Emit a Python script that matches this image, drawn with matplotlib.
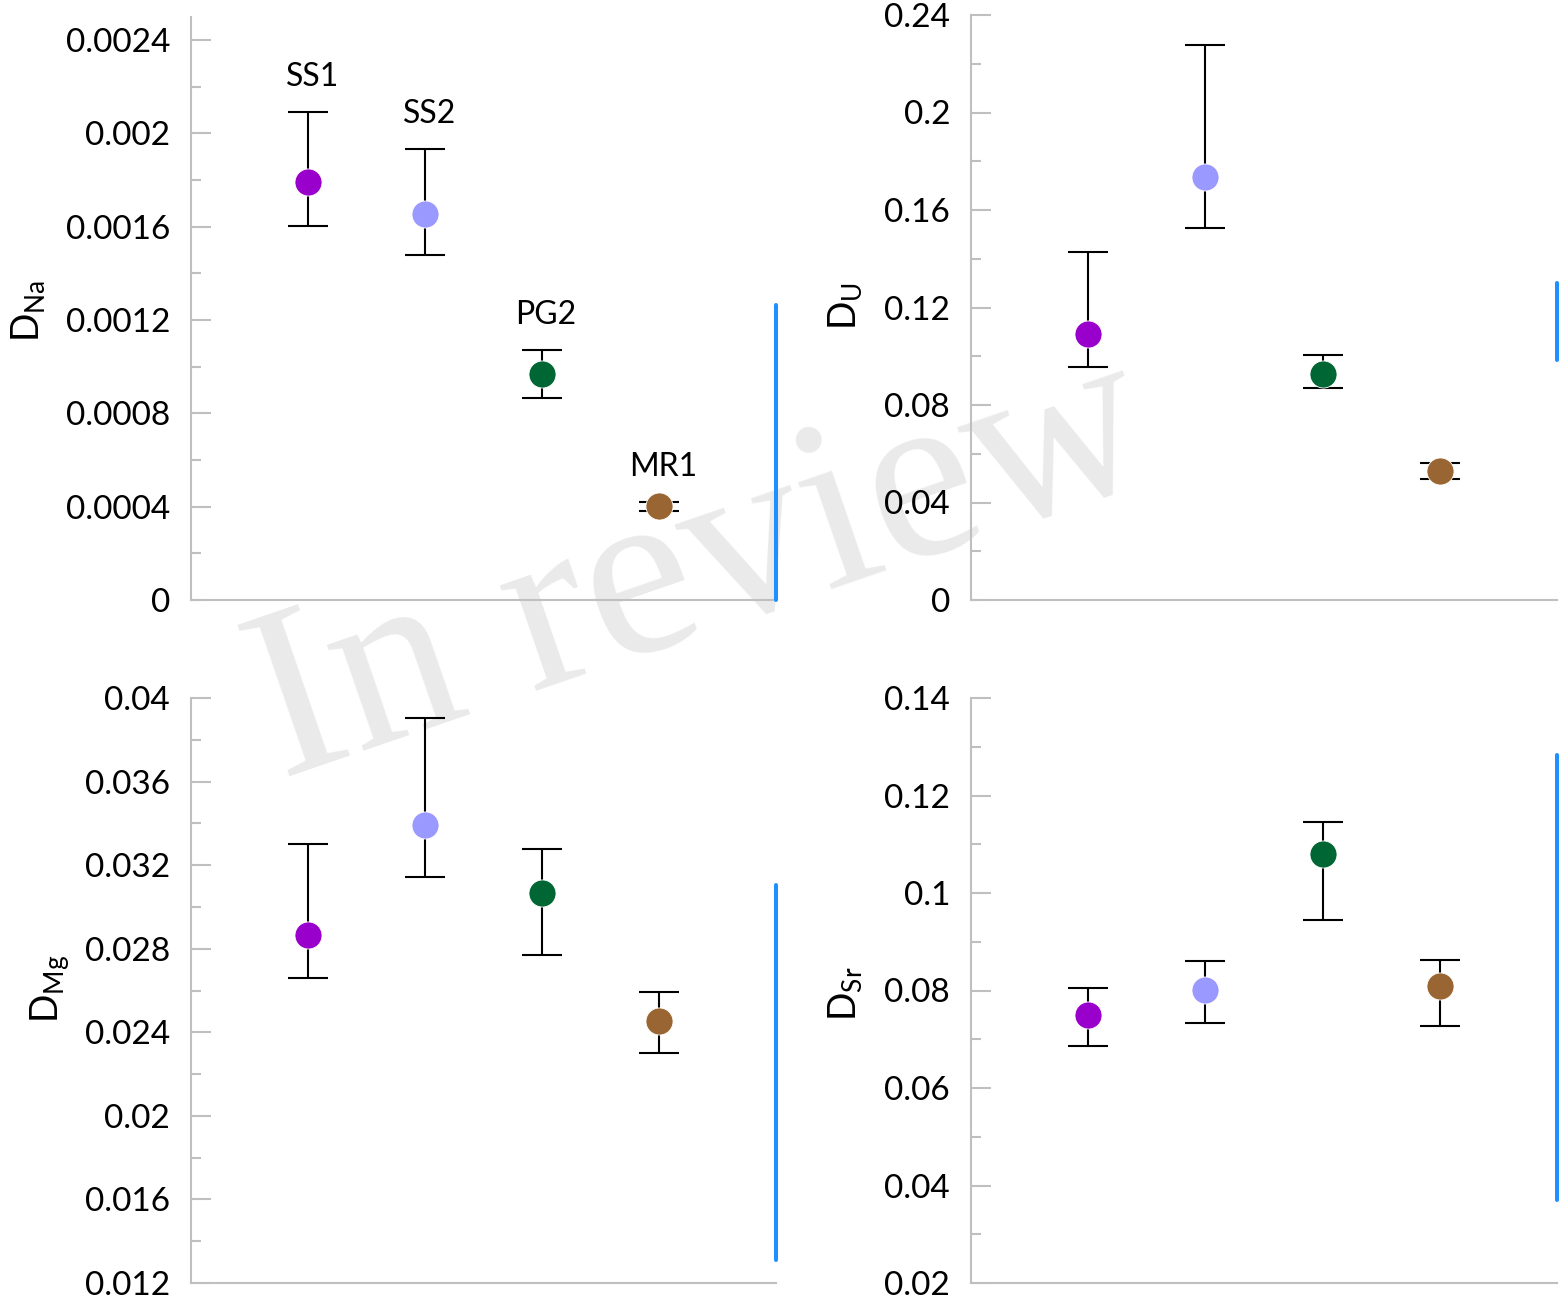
import numpy as np
import matplotlib
matplotlib.use("Agg")
import matplotlib.pyplot as plt
from matplotlib.ticker import MultipleLocator, FuncFormatter

plt.rcParams['font.family'] = ['Lato', 'DejaVu Sans']
plt.rcParams['mathtext.fontset'] = 'custom'
plt.rcParams['mathtext.rm'] = 'Lato'

samples = ['SS1', 'SS2', 'PG2', 'MR1']
colors = ['#9900cc', '#9999ff', '#006633', '#996633']

# D_Na
na_val = [0.00179, 0.001654, 0.000969, 0.000403]
na_lo = [0.001603, 0.001479, 0.000866, 0.000383]
na_hi = [0.002091, 0.001933, 0.001071, 0.000421]
# D_U
u_val = [0.1091, 0.1735, 0.0927, 0.0529]
u_lo = [0.0956, 0.1526, 0.0870, 0.0495]
u_hi = [0.1428, 0.2277, 0.1005, 0.0563]
# D_Mg
mg_val = [0.02866, 0.03392, 0.03067, 0.02454]
mg_lo = [0.02660, 0.03143, 0.02770, 0.02301]
mg_hi = [0.03301, 0.03904, 0.03277, 0.02593]
# D_Sr
sr_val = [0.0750, 0.0801, 0.1080, 0.0809]
sr_lo = [0.0686, 0.0733, 0.0945, 0.0727]
sr_hi = [0.0805, 0.0861, 0.1146, 0.0863]

# blue vertical line segments at right edge of each panel (y range)
blue_na = [0.0, 0.001264]
blue_u = [0.0985, 0.130]
blue_mg = [0.0131, 0.03105]
blue_sr = [0.0370, 0.1283]

W, H = 1563, 1307
fig = plt.figure(figsize=(W / 100, H / 100), dpi=100)

def px_axes(x0, x1, ytop, ybot):
    return [x0 / W, 1 - ybot / H, (x1 - x0) / W, (ybot - ytop) / H]

panels = [
    dict(rect=px_axes(191, 776, 16.7, 600), val=na_val, lo=na_lo, hi=na_hi, ylim=(0, 0.0025),
         major=0.0004, minor=0.0002, label=r'D$_{\mathregular{Na}}$', lab=(29, 311), blue=blue_na, names=True),
    dict(rect=px_axes(971, 1557, 15, 600), val=u_val, lo=u_lo, hi=u_hi, ylim=(0, 0.24),
         major=0.04, minor=0.02, label=r'D$_{\mathregular{U}}$', lab=(846, 306), blue=blue_u, names=False),
    dict(rect=px_axes(191, 776, 698, 1283), val=mg_val, lo=mg_lo, hi=mg_hi, ylim=(0.012, 0.04),
         major=0.004, minor=0.002, label=r'D$_{\mathregular{Mg}}$', lab=(50, 989), blue=blue_mg, names=False),
    dict(rect=px_axes(971, 1557, 698, 1283), val=sr_val, lo=sr_lo, hi=sr_hi, ylim=(0.02, 0.14),
         major=0.02, minor=0.01, label=r'D$_{\mathregular{Sr}}$', lab=(846, 994), blue=blue_sr, names=False),
]

spine_col = '#bfbfbf'
x = np.arange(1, len(samples) + 1)

for p in panels:
    ax = fig.add_axes(p['rect'])
    ax.set_facecolor('none')
    ax.set_xlim(0, 5)
    ax.set_ylim(*p['ylim'])
    for s in ['top', 'right']:
        ax.spines[s].set_visible(False)
    for s in ['left', 'bottom']:
        ax.spines[s].set_color(spine_col)
        ax.spines[s].set_linewidth(1.5)
    ax.set_xticks([])
    ax.yaxis.set_major_locator(MultipleLocator(p['major']))
    ax.yaxis.set_minor_locator(MultipleLocator(p['minor']))
    ax.yaxis.set_major_formatter(FuncFormatter(lambda v, pos: f'{round(v, 6):g}'))
    ax.tick_params(axis='y', which='major', direction='in', length=14.4, width=1.5,
                   color=spine_col, labelsize=24, pad=15)
    ax.tick_params(axis='y', which='minor', direction='in', length=7.2, width=1.5, color=spine_col)
    val = np.array(p['val'])
    lo = np.array(p['lo'])
    hi = np.array(p['hi'])
    for i in range(len(samples)):
        ax.errorbar(x[i], val[i], yerr=[[val[i] - lo[i]], [hi[i] - val[i]]], fmt='none',
                    ecolor='black', elinewidth=1.5, capsize=14.4, capthick=1.5, zorder=2)
        ax.plot(x[i], val[i], 'o', ms=19.5, color=colors[i], mec='white', mew=0.6, zorder=3)
        if p['names']:
            ax.annotate(samples[i], (x[i], hi[i]), xytext=(3, 25), textcoords='offset points',
                        ha='center', va='center', fontsize=23)
    ax.plot([5, 5], p['blue'], color='#1e90ff', lw=2.9, clip_on=False, solid_capstyle='round', zorder=4)
    ax.set_ylabel(p['label'], fontsize=27)
    lx, ly = p['lab']
    x0 = p['rect'][0] * W
    w = p['rect'][2] * W
    ybot = (1 - p['rect'][1]) * H
    h = p['rect'][3] * H
    ax.yaxis.set_label_coords((lx - x0) / w, (ybot - ly) / h)
    ax.yaxis.label.set_verticalalignment('center')
    ax.yaxis.label.set_horizontalalignment('center')

fig.text(702 / W, 1 - 572 / H, 'In review', rotation=19, fontsize=176,
         family='Liberation Serif', color='#eaeaea', ha='center', va='center', zorder=-1)

fig.savefig('out.png', dpi=100, facecolor='white')
